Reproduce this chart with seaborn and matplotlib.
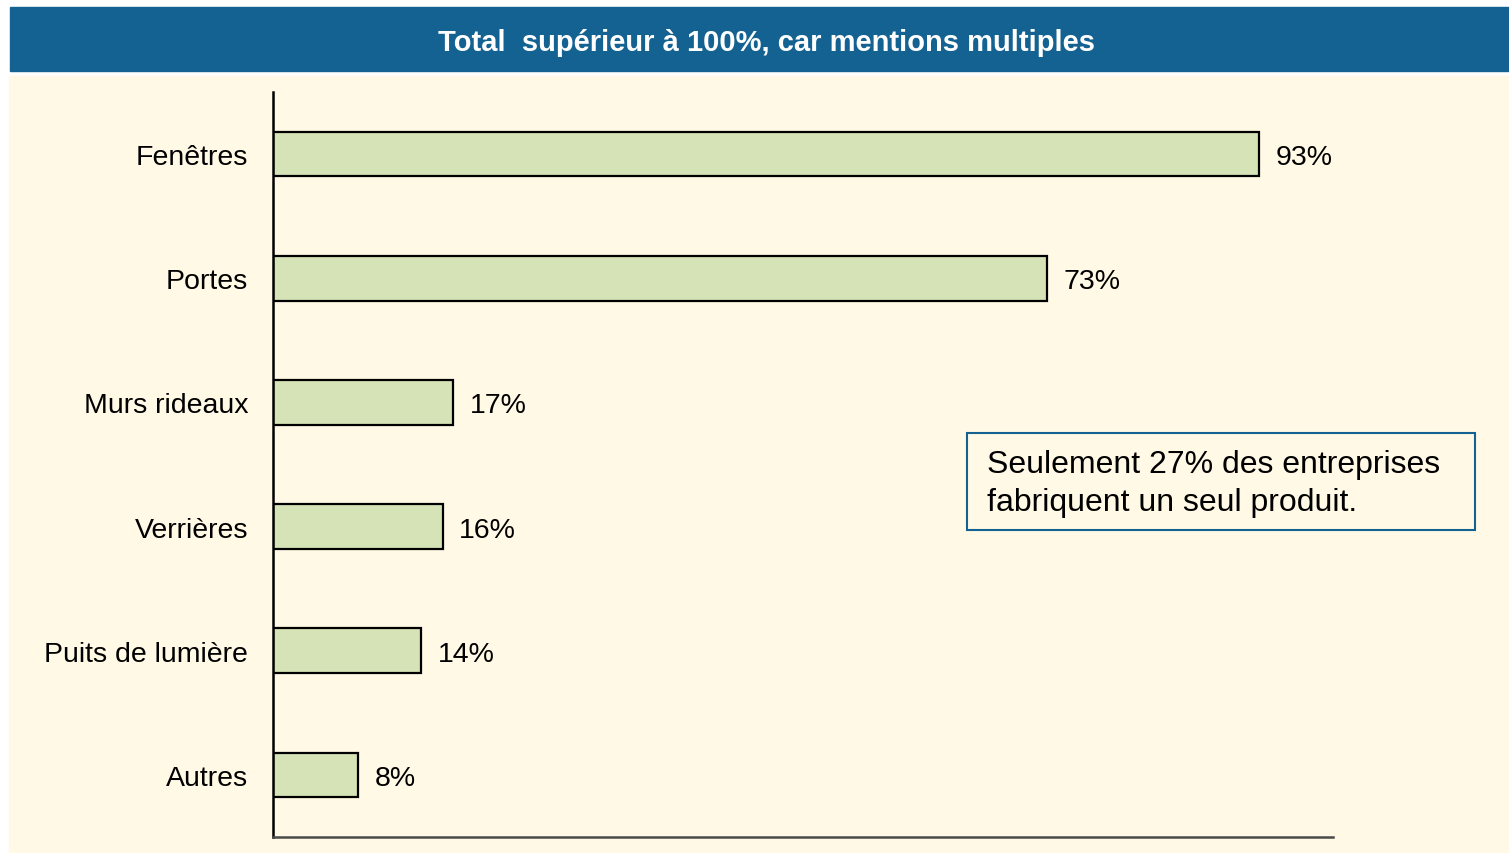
import matplotlib
matplotlib.use('Agg')
import matplotlib.pyplot as plt
from matplotlib.patches import Rectangle
import seaborn as sns
import pandas as pd

categories = ['Fenêtres', 'Portes', 'Murs rideaux', 'Verrières', 'Puits de lumière', 'Autres']
values = [93, 73, 17, 16, 14, 8]
value_labels = ['93%', '73%', '17%', '16%', '14%', '8%']
title_text = 'Total  supérieur à 100%, car mentions multiples'
note_text = 'Seulement 27% des entreprises\nfabriquent un seul produit.'

banner_color = '#136291'
cream = '#FFF9E5'
bar_color = '#D6E3B7'

sns.set_theme(style='white')
plt.rcParams['font.family'] = ['Liberation Sans', 'DejaVu Sans']

W, H = 1509, 854
fig = plt.figure(figsize=(W / 100, H / 100), dpi=100)
fig.patch.set_facecolor('white')

# background panels (pixel coords converted to figure fractions)
fig.patches.append(Rectangle((10 / W, 1 - 72 / H), 1 - 10 / W, 64 / H,
                             transform=fig.transFigure, color=banner_color, zorder=-2))
fig.patches.append(Rectangle((9 / W, 0), 1 - 9 / W, 1 - 77 / H,
                             transform=fig.transFigure, color=cream, zorder=-2))
fig.text(766 / W, 1 - 43 / H, title_text, color='white', fontsize=21,
         fontweight='bold', ha='center', va='center')

ax = fig.add_axes([273 / W, 16 / H, (1333 - 273) / W, (838 - 93) / H])
ax.set_facecolor('none')
ax.set_zorder(1)

df = pd.DataFrame({'cat': categories, 'val': values})
sns.barplot(data=df, x='val', y='cat', orient='h', color=bar_color,
            edgecolor='black', linewidth=1.6, width=0.36, saturation=1, ax=ax)
texts = ax.bar_label(ax.containers[0], labels=value_labels, padding=12,
                     fontsize=20.5, color='black')
for t in texts:
    t.set_verticalalignment('center_baseline')

ax.set_xlim(0, 100)
ax.set_ylim(5.5, -0.5)
ax.set_xlabel('')
ax.set_ylabel('')
ax.set_xticks([])
ax.tick_params(axis='y', length=0, pad=18, labelsize=20.5, labelcolor='black')
for s in ['top', 'right']:
    ax.spines[s].set_visible(False)
ax.spines['left'].set_color('black')
ax.spines['left'].set_linewidth(1.8)
ax.spines['bottom'].set_color('#4a4a4a')
ax.spines['bottom'].set_linewidth(1.8)

# note box
fig.patches.append(Rectangle((967 / W, 1 - 531 / H), (1475 - 967) / W, (531 - 434) / H,
                             transform=fig.transFigure, facecolor='none',
                             edgecolor=banner_color, linewidth=1.5, zorder=3))
fig.text(987 / W, 1 - 484 / H, note_text, fontsize=23, color='black',
         ha='left', va='center', linespacing=1.35)

fig.savefig('out.png', dpi=100, facecolor=fig.get_facecolor())
